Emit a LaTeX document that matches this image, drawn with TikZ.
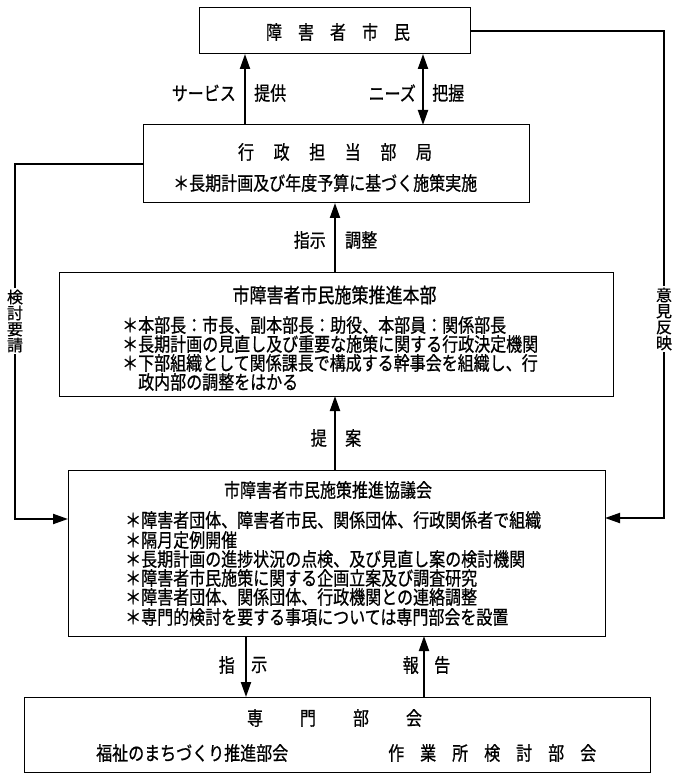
\documentclass[tikz,border=0pt]{standalone}
\usepackage{fontspec}
\usepackage{graphicx}
\newfontfamily\jp[FakeBold=0.8]{Noto Sans CJK JP}
\newcommand\tl[1]{\scalebox{1}[1.2]{#1}}
\usetikzlibrary{arrows.meta}
\begin{document}
\begin{tikzpicture}[x=1pt,y=-1pt,
  box/.style={draw, line width=1pt, inner sep=0pt, outer sep=0pt},
  txt/.style={inner sep=0pt, anchor=west, font=\jp\fontsize{16}{19}\selectfont},
  ctr/.style={inner sep=0pt, font=\jp\fontsize{16}{19}\selectfont},
  lbl/.style={inner sep=0pt, font=\jp\fontsize{16}{19}\selectfont},
  conn/.style={line width=2pt},
  arr/.style={conn, -{Triangle[length=15pt,width=10pt]}},
  darr/.style={conn, {Triangle[length=15pt,width=10pt]}-{Triangle[length=15pt,width=10pt]}},
  vlbl/.style={fill=white, inner xsep=1pt, inner ysep=2pt, align=center, font=\jp\fontsize{16}{16}\selectfont}
]
\useasboundingbox (0,0) rectangle (685,783);
\fill[white] (0,0) rectangle (685,783);

% boxes
\node[box, minimum width=271pt, minimum height=46pt] (b1) at (334.5,31) {};
\node[box, minimum width=386pt, minimum height=78pt] (b2) at (336,164) {};
\node[box, minimum width=554pt, minimum height=124pt] (b3) at (336,334) {};
\node[box, minimum width=537pt, minimum height=166pt] (b4) at (336.5,553) {};
\node[box, minimum width=626pt, minimum height=75pt] (b5) at (337,734.5) {};

% box 1
\node[ctr] (t1) at (338,32) {\tl{障　害　者　市　民}};
% box 2
\node[ctr] (t2) at (335,152) {\tl{行\hspace{19.6pt}政\hspace{19.6pt}担\hspace{19.6pt}当\hspace{19.6pt}部\hspace{19.6pt}局}};
\node[txt] (t2a) at (173,183) {\tl{＊長期計画及び年度予算に基づく施策実施}};
% box 3
\node[ctr, font=\jp\fontsize{17}{19}\selectfont] (t3) at (334.5,295) {\tl{市障害者市民施策推進本部}};
\node[txt] (t3a) at (122,325) {\tl{＊本部長：市長、副本部長：助役、本部員：関係部長}};
\node[txt] (t3b) at (122,344) {\tl{＊長期計画の見直し及び重要な施策に関する行政決定機関}};
\node[txt] (t3c) at (122,363) {\tl{＊下部組織として関係課長で構成する幹事会を組織し、行}};
\node[txt] (t3d) at (138,382) {\tl{政内部の調整をはかる}};
% box 4
\node[ctr] (t4) at (328,490) {\tl{市障害者市民施策推進協議会}};
\node[txt] (t4a) at (125,520) {\tl{＊障害者団体、障害者市民、関係団体、行政関係者で組織}};
\node[txt] (t4b) at (125,540) {\tl{＊隔月定例開催}};
\node[txt] (t4c) at (125,559) {\tl{＊長期計画の進捗状況の点検、及び見直し案の検討機関}};
\node[txt] (t4d) at (125,578) {\tl{＊障害者市民施策に関する企画立案及び調査研究}};
\node[txt] (t4e) at (125,597) {\tl{＊障害者団体、関係団体、行政機関との連絡調整}};
\node[txt] (t4f) at (125,617) {\tl{＊専門的検討を要する事項については専門部会を設置}};
% box 5
\node[ctr] (t5) at (334.5,718) {\tl{専\hspace{37pt}門\hspace{37pt}部\hspace{37pt}会}};
\node[txt] (t5a) at (96,753) {\tl{福祉のまちづくり推進部会}};
\node[txt] (t5b) at (388,753) {\tl{作　業　所　検　討　部　会}};

% coordinates for vertical arrows
\coordinate (x1) at (245,0);
\coordinate (x2) at (423,0);
\coordinate (x3) at (335,0);
\coordinate (x5) at (246,0);
\coordinate (x6) at (424,0);

\draw[arr] (b2.north -| x1) -- (b1.south -| x1);
\draw[darr] (b2.north -| x2) -- (b1.south -| x2);
\draw[arr] (b3.north -| x3) -- (b2.south -| x3);
\draw[arr] (b4.north -| x3) -- (b3.south -| x3);
\draw[arr] (b4.south -| x5) -- (b5.north -| x5);
\draw[arr] (b5.north -| x6) -- (b4.south -| x6);

% arrow labels
\node[lbl, anchor=east] (l1a) at (236,93) {\tl{サービス}};
\node[lbl, anchor=west] (l1b) at (254,93) {\tl{提供}};
\node[lbl, anchor=east] (l2a) at (416,93) {\tl{ニーズ}};
\node[lbl, anchor=west] (l2b) at (432,93) {\tl{把握}};
\node[lbl, anchor=east] (l3a) at (326,240) {\tl{指示}};
\node[lbl, anchor=west] (l3b) at (345,240) {\tl{調整}};
\node[lbl, anchor=east] (l4a) at (327,438) {\tl{提}};
\node[lbl, anchor=west] (l4b) at (345,438) {\tl{案}};
\node[lbl, anchor=east] (l5a) at (235,665) {\tl{指}};
\node[lbl, anchor=west] (l5b) at (251,665) {\tl{示}};
\node[lbl, anchor=east] (l6a) at (419,665) {\tl{報}};
\node[lbl, anchor=west] (l6b) at (434,665) {\tl{告}};

% side connectors
\coordinate (L) at (15,519);
\coordinate (R) at (664,518);
\draw[arr] (b2.west) -| (L) -- (L -| b4.west);
\draw[arr] (b1.east) -| (R) -- (R -| b4.east);
\node[vlbl] (vl) at (15,321) {検\\討\\要\\請};
\node[vlbl] (vr) at (664,319) {意\\見\\反\\映};
\end{tikzpicture}
\end{document}
